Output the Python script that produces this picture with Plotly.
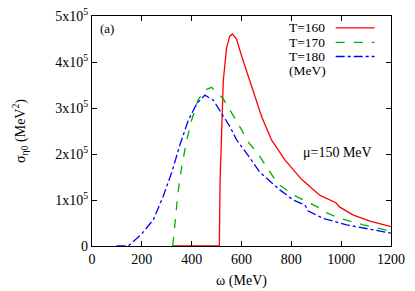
import plotly.graph_objects as go

# ---- data (omega in MeV, sigma in units of 1e5 MeV^2) ----
w_160 = [325, 511, 514, 520, 527, 540, 552, 563, 580, 601, 628, 654, 681, 721, 774, 841, 915, 979, 993, 1049, 1116, 1200]
s_160 = [0, 0, 1.4, 2.6, 3.6, 4.3, 4.55, 4.61, 4.5, 4.12, 3.68, 3.25, 2.81, 2.3, 1.87, 1.45, 1.1, 0.94, 0.85, 0.67, 0.54, 0.42]

w_170 = [324, 333, 345, 360, 380, 400, 425, 453, 480, 527, 581, 601, 621, 667, 728, 754, 808, 862, 902, 915, 928, 995, 1089, 1200]
s_170 = [0, 0.57, 1.15, 1.72, 2.3, 2.74, 3.17, 3.39, 3.45, 3.2, 2.7, 2.52, 2.3, 2.0, 1.5, 1.32, 1.11, 0.96, 0.86, 0.82, 0.75, 0.6, 0.46, 0.32]

w_180 = [99, 145, 199, 246, 285, 320, 353, 387, 421, 453, 487, 520, 554, 581, 620, 674, 754, 808, 855, 868, 928, 1022, 1200]
s_180 = [0, 0, 0.26, 0.57, 1.07, 1.6, 2.2, 2.74, 3.1, 3.28, 3.17, 2.89, 2.59, 2.3, 2.02, 1.6, 1.22, 1.0, 0.89, 0.76, 0.6, 0.46, 0.28]

series_names = ["T=160", "T=170", "T=180"]
series_colors = ["#ff0000", "#00b000", "#0000ff"]
series_dash = ["solid", "dash", "dashdot"]

x_ticks = [0, 200, 400, 600, 800, 1000, 1200]
y_ticks = [0, 1e5, 2e5, 3e5, 4e5, 5e5]
y_ticktext = ["0", "1x10<sup>5</sup>", "2x10<sup>5</sup>", "3x10<sup>5</sup>", "4x10<sup>5</sup>", "5x10<sup>5</sup>"]

FONT = "Liberation Serif"

fig = go.Figure()
for w, s, name, col, dash in zip([w_160, w_170, w_180], [s_160, s_170, s_180],
                                 series_names, series_colors, series_dash):
    fig.add_trace(go.Scatter(x=w, y=[v * 1e5 for v in s], mode="lines", name=name,
                             line=dict(color=col, width=1.3, dash=dash), showlegend=False))

axis_common = dict(showline=True, linecolor="black", linewidth=1.2, mirror="ticks",
                   ticks="inside", ticklen=5, tickcolor="black", showgrid=False,
                   zeroline=False, automargin=False,
                   tickfont=dict(family=FONT, size=14, color="black"))

fig.update_xaxes(range=[0, 1200], tickvals=x_ticks, **axis_common,
                 title=dict(text="ω (MeV)", font=dict(family=FONT, size=14, color="black"), standoff=9))
fig.update_yaxes(range=[0, 5e5], tickvals=y_ticks, ticktext=y_ticktext, **axis_common,
                 title=dict(text="σ<sub>η0</sub> (MeV<sup>2</sup>)", font=dict(family=FONT, size=14, color="black"), standoff=26))

# manual legend (text on left, sample line on right)
ann = []
shapes = []
leg_y = [0.948, 0.885, 0.824]
for name, col, dash, yy in zip(series_names, series_colors, series_dash, leg_y):
    ann.append(dict(x=0.785, y=yy, xref="paper", yref="paper", text=name, showarrow=False,
                    xanchor="right", yanchor="middle", font=dict(family=FONT, size=13.5, color="black")))
    shapes.append(dict(type="line", xref="paper", yref="paper", x0=0.815, x1=0.945, y0=yy, y1=yy,
                       line=dict(color=col, width=1.3, dash=dash)))
ann.append(dict(x=0.722, y=0.762, xref="paper", yref="paper", text="(MeV)", showarrow=False,
                xanchor="center", yanchor="middle", font=dict(family=FONT, size=13.5, color="black")))
ann.append(dict(x=0.02, y=0.985, xref="paper", yref="paper", text="(a)", showarrow=False,
                xanchor="left", yanchor="top", font=dict(family=FONT, size=13, color="black")))
ann.append(dict(x=0.82, y=0.405, xref="paper", yref="paper", text="μ=150 MeV", showarrow=False,
                xanchor="center", yanchor="middle", font=dict(family=FONT, size=14, color="black")))

fig.update_layout(width=415, height=291, margin=dict(l=92, r=24, t=16, b=45),
                  paper_bgcolor="white", plot_bgcolor="white",
                  annotations=ann, shapes=shapes)

# remove the default 8px page margin so the figure sits at the window's corner
fig.write_html("out.html", config={"displayModeBar": False},
               post_script="document.body.style.margin='0';")
